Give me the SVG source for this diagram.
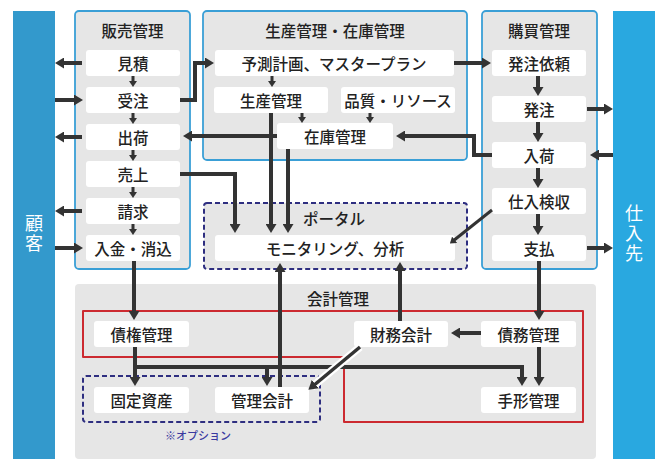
<svg xmlns="http://www.w3.org/2000/svg" width="670" height="470" viewBox="0 0 670 470">
<defs>
<style>
.grp{fill:#e6e6e6;stroke:#3a9fd6;stroke-width:1.8}
.nd{fill:#ffffff}
.t{font-family:"Noto Sans CJK JP","Noto Sans",sans-serif;font-size:15.5px;font-weight:500;fill:#222;text-anchor:middle;dominant-baseline:central}
.vt{font-family:"Noto Sans CJK JP","Noto Sans",sans-serif;font-size:18px;fill:#ffffff;text-anchor:middle;dominant-baseline:central;writing-mode:vertical-rl;letter-spacing:2px}
.ln{fill:none;stroke:#333;stroke-width:4;marker-end:url(#a)}
.lp{fill:none;stroke:#333;stroke-width:4}
.ls{fill:none;stroke:#333;stroke-width:3;marker-end:url(#s)}
.dash{fill:none;stroke:#2e2e80;stroke-width:2;stroke-dasharray:5 3}
</style>
<marker id="a" markerUnits="userSpaceOnUse" markerWidth="9" markerHeight="11" refX="3" refY="5.5" orient="auto"><path d="M0,0 L9,5.5 L0,11 z" fill="#333"/></marker>
<marker id="s" markerUnits="userSpaceOnUse" markerWidth="6" markerHeight="8" refX="2" refY="4" orient="auto"><path d="M0,0 L6,4 L0,8 z" fill="#333"/></marker>
</defs>
<rect width="670" height="470" fill="#ffffff"/>

<!-- side bars -->
<g id="customer">
<rect x="13" y="11" width="42" height="448" fill="#3399cc"/>
<text class="vt" x="34" y="234">顧客</text>
</g>
<g id="supplier">
<rect x="613" y="11" width="42" height="448" fill="#29a8e0"/>
<text class="vt" x="634" y="234">仕入先</text>
</g>

<!-- containers -->
<g id="sales">
<rect class="grp" x="75" y="11" width="115" height="258" rx="4"/>
<text class="t" x="132.5" y="30">販売管理</text>
</g>
<g id="production">
<rect class="grp" x="203" y="11" width="264" height="149" rx="4"/>
<text class="t" x="335" y="30">生産管理・在庫管理</text>
</g>
<g id="purchasing">
<rect class="grp" x="482" y="11" width="115" height="258" rx="4"/>
<text class="t" x="539" y="30">購買管理</text>
</g>
<g id="portal">
<rect x="204" y="203" width="263" height="66" rx="3" fill="#e6e6e6"/>
<rect class="dash" x="204" y="203" width="263" height="66" rx="3"/>
<text class="t" x="334" y="218">ポータル</text>
</g>
<g id="accounting">
<rect x="75" y="284" width="521" height="175" rx="4" fill="#e6e6e6"/>
<text class="t" x="338" y="298">会計管理</text>
<path d="M83,311 H583 V422 H344 V357 H83 Z" fill="none" stroke="#cc2a30" stroke-width="2" stroke-linejoin="round"/>
<rect class="dash" x="83" y="376" width="237" height="46" rx="3"/>
<text x="198" y="435" font-family="Noto Sans CJK JP, sans-serif" font-size="11" font-weight="500" fill="#3a3aa0" text-anchor="middle" dominant-baseline="central">※オプション</text>
</g>

<!-- nodes -->
<g id="n-mitsumori"><rect class="nd" x="86" y="50" width="94" height="26" rx="3"/><text class="t" x="133" y="63">見積</text></g>
<g id="n-juchu"><rect class="nd" x="86" y="87" width="94" height="26" rx="3"/><text class="t" x="133" y="100">受注</text></g>
<g id="n-shukka"><rect class="nd" x="86" y="124" width="94" height="26" rx="3"/><text class="t" x="133" y="137">出荷</text></g>
<g id="n-uriage"><rect class="nd" x="86" y="161" width="94" height="26" rx="3"/><text class="t" x="133" y="174">売上</text></g>
<g id="n-seikyu"><rect class="nd" x="86" y="198" width="94" height="26" rx="3"/><text class="t" x="133" y="211">請求</text></g>
<g id="n-nyukin"><rect class="nd" x="86" y="235" width="94" height="26" rx="3"/><text class="t" x="133" y="248">入金・消込</text></g>

<g id="n-yosoku"><rect class="nd" x="215" y="50" width="239" height="26" rx="3"/><text class="t" x="334" y="63">予測計画、マスタープラン</text></g>
<g id="n-seisan"><rect class="nd" x="214" y="87" width="114" height="26" rx="3"/><text class="t" x="271" y="100">生産管理</text></g>
<g id="n-hinshitsu"><rect class="nd" x="341" y="87" width="114" height="26" rx="3"/><text class="t" x="398" y="100">品質・リソース</text></g>
<g id="n-zaiko"><rect class="nd" x="277" y="123" width="116" height="26" rx="3"/><text class="t" x="335" y="136">在庫管理</text></g>

<g id="n-hacchuirai"><rect class="nd" x="492" y="50" width="94" height="26" rx="3"/><text class="t" x="539" y="63">発注依頼</text></g>
<g id="n-hacchu"><rect class="nd" x="492" y="96" width="94" height="26" rx="3"/><text class="t" x="539" y="109">発注</text></g>
<g id="n-nyuka"><rect class="nd" x="492" y="142" width="94" height="26" rx="3"/><text class="t" x="539" y="155">入荷</text></g>
<g id="n-kenshu"><rect class="nd" x="492" y="188" width="94" height="26" rx="3"/><text class="t" x="539" y="201">仕入検収</text></g>
<g id="n-shiharai"><rect class="nd" x="492" y="235" width="94" height="26" rx="3"/><text class="t" x="539" y="248">支払</text></g>

<g id="n-monitoring"><rect class="nd" x="215" y="235" width="240" height="26" rx="3"/><text class="t" x="335" y="248">モニタリング、分析</text></g>

<g id="n-saiken"><rect class="nd" x="94" y="321" width="95" height="26" rx="3"/><text class="t" x="141.5" y="334">債権管理</text></g>
<g id="n-kotei"><rect class="nd" x="94" y="387" width="95" height="26" rx="3"/><text class="t" x="141.5" y="400">固定資産</text></g>
<g id="n-kanri"><rect class="nd" x="215" y="387" width="94" height="26" rx="3"/><text class="t" x="262" y="400">管理会計</text></g>
<g id="n-zaimu"><rect class="nd" x="354" y="321" width="94" height="26" rx="3"/><text class="t" x="401" y="334">財務会計</text></g>
<g id="n-saimu"><rect class="nd" x="481" y="321" width="95" height="26" rx="3"/><text class="t" x="528.5" y="334">債務管理</text></g>
<g id="n-tegata"><rect class="nd" x="481" y="387" width="95" height="26" rx="3"/><text class="t" x="528.5" y="400">手形管理</text></g>

<!-- connectors -->
<g id="connectors">
<path class="ls" d="M133,76 V83"/>
<path class="ls" d="M133,113 V120"/>
<path class="ls" d="M133,150 V157"/>
<path class="ls" d="M133,187 V194"/>
<path class="ls" d="M133,224 V231"/>
<path class="ls" d="M272,76 V83"/>
<path class="ls" d="M302,113 V119"/>
<path class="ls" d="M370,113 V119"/>
<path class="ln" d="M538,76 V90"/>
<path class="ln" d="M538,122 V136"/>
<path class="ln" d="M538,168 V182"/>
<path class="ln" d="M538,214 V229"/>
<path class="ln" d="M82,63 H61"/>
<path class="ln" d="M55,100 H77"/>
<path class="ln" d="M82,137 H61"/>
<path class="ln" d="M82,211 H61"/>
<path class="ln" d="M55,248 H77"/>
<path class="ln" d="M587,109 H607"/>
<path class="ln" d="M613,155 H596"/>
<path class="ln" d="M587,248 H607"/>
<path class="ln" d="M180,100 H195 V63 H208"/>
<path class="ln" d="M277,136 H189"/>
<path class="ln" d="M454,63 H485"/>
<path class="ln" d="M492,155 H474 V136 H402"/>
<path class="ln" d="M180,174 H235 V227"/>
<path class="ln" d="M271,113 V227"/>
<path class="ln" d="M288,149 V227"/>
<path class="ls" d="M492,210 L453,241"/>
<path class="ln" d="M134,261 V314"/>
<path class="ln" d="M539,261 V314"/>
<path class="lp" d="M135,347 V367 H522"/>
<path class="ln" d="M135,365 V380"/>
<path class="ln" d="M267,367 V380"/>
<path class="ln" d="M522,365 V380"/>
<path class="ln" d="M539,347 V380"/>
<path class="ln" d="M481,333 H457"/>
<path class="ln" d="M400,321 V268"/>
<path class="ln" d="M280,387 V269"/>
<path d="M360,347 L312,387" fill="none" stroke="#ffffff" stroke-width="8"/>
<path class="ln" d="M360,347 L313,386" style="stroke-width:3.5"/>
</g>
</svg>
